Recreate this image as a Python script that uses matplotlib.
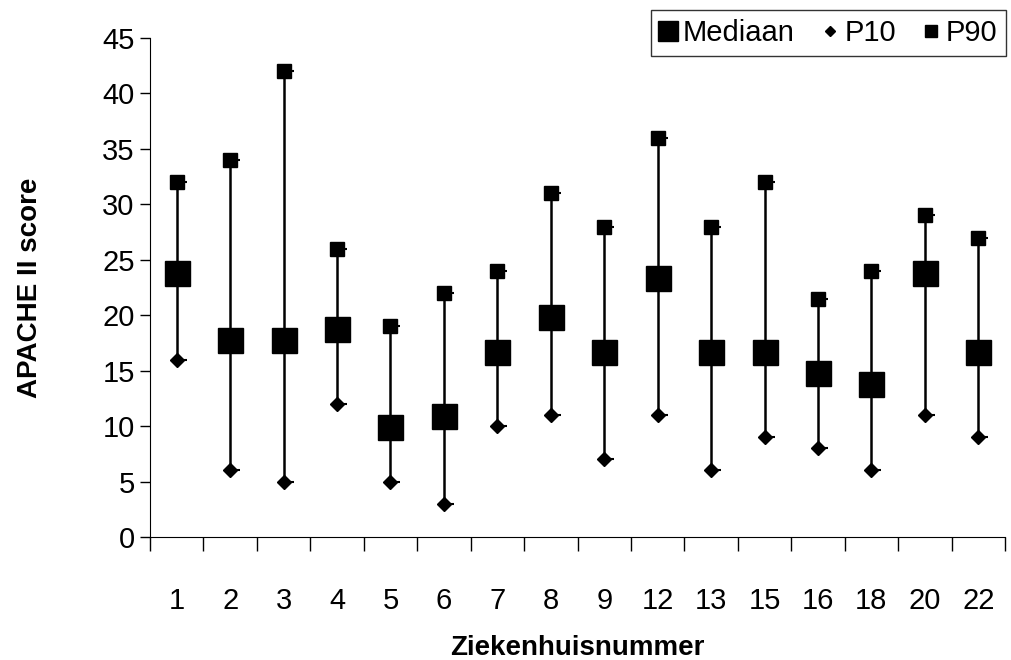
import matplotlib.pyplot as plt
from matplotlib.markers import TICKRIGHT
import numpy as np

plt.rcParams['font.family'] = ['Liberation Sans', 'DejaVu Sans']

ziekenhuis = ['1', '2', '3', '4', '5', '6', '7', '8', '9', '12', '13', '15', '16', '18', '20', '22']
mediaan = [23.8, 17.8, 17.8, 18.8, 9.9, 10.9, 16.7, 19.8, 16.7, 23.4, 16.7, 16.7, 14.8, 13.8, 23.8, 16.7]
p10 = [16, 6, 5, 12, 5, 3, 10, 11, 7, 11, 6, 9, 8, 6, 11, 9]
p90 = [32, 34, 42, 26, 19, 22, 24, 31, 28, 36, 28, 32, 21.5, 24, 29, 27]

x = np.arange(len(ziekenhuis))

fig = plt.figure(figsize=(10.11, 6.6), dpi=100)
ax = fig.add_axes([150 / 1011, 1 - 537 / 660, 855 / 1011, 499 / 660])

# hoog-laag lijnen
ax.vlines(x, p10, p90, color='black', lw=1.8, zorder=1)
# kleine streepjes rechts (Excel-stijl)
ax.plot(x, p90, ls='none', marker=TICKRIGHT, ms=7, mew=1.5, color='black', zorder=2)
ax.plot(x, p10, ls='none', marker=TICKRIGHT, ms=7, mew=1.5, color='black', zorder=2)

h_med, = ax.plot(x, mediaan, ls='none', marker='s', ms=18, color='black', zorder=3, label='Mediaan')
h_p10, = ax.plot(x, p10, ls='none', marker='D', ms=7, color='black', zorder=3, label='P10')
h_p90, = ax.plot(x, p90, ls='none', marker='s', ms=10, color='black', zorder=3, label='P90')

ax.set_xlim(-0.5, len(x) - 0.5)
ax.set_ylim(0, 45)
ax.set_yticks(np.arange(0, 46, 5))
ax.tick_params(axis='y', direction='out', length=7, width=1, labelsize=21, pad=4)

ax.set_xticks(np.arange(-0.5, len(x), 1))
ax.set_xticklabels([])
ax.tick_params(axis='x', which='major', direction='out', length=10, width=1)
ax.set_xticks(x, minor=True)
ax.set_xticklabels(ziekenhuis, minor=True)
ax.tick_params(axis='x', which='minor', length=0, labelsize=21, pad=36)

for side in ['top', 'right']:
    ax.spines[side].set_visible(False)

ax.set_ylabel('APACHE II score', fontsize=20, fontweight='bold')
ax.yaxis.set_label_coords(-120 / 855, 0.5)
ax.yaxis.label.set_va('center')
ax.set_xlabel('Ziekenhuisnummer', fontsize=20, fontweight='bold')
ax.xaxis.set_label_coords(0.5, -111 / 499)
ax.xaxis.label.set_va('center')

leg = fig.legend(handles=[h_med, h_p10, h_p90], loc='upper right',
                 bbox_to_anchor=(1006 / 1011, 1 - 10 / 660), borderaxespad=0,
                 ncol=3, fontsize=21, frameon=True, fancybox=False,
                 edgecolor='black', handlelength=0.6, handletextpad=0.2,
                 columnspacing=0.9, borderpad=0.3, markerscale=0.8)
leg.get_frame().set_linewidth(1)

fig.savefig('out.png', dpi=100, facecolor='white')
